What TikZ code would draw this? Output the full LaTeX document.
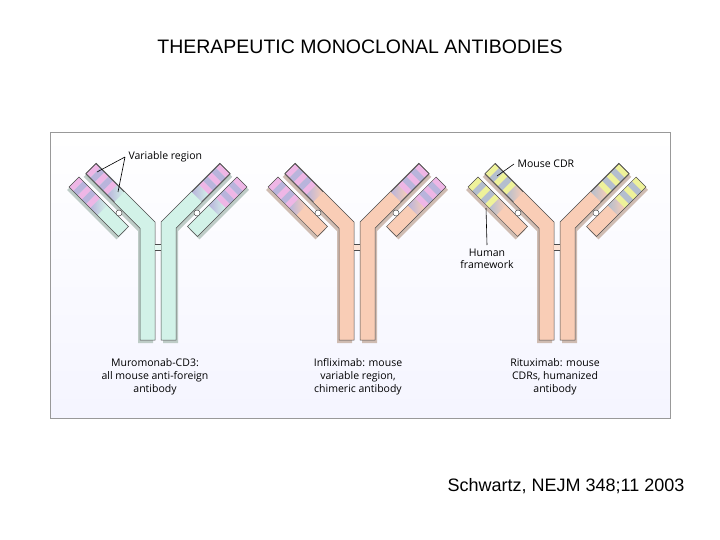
\documentclass[tikz,border=0pt]{standalone}
\usepackage{fontspec}
\setmainfont{Liberation Sans}
\newfontfamily\capfont{Open Sans}
\begin{document}
\begin{tikzpicture}[x=1pt,y=-1pt,
  edge/.style={draw=black!70,line width=0.5pt},
  captxt/.style={font=\capfont\fontsize{10.5}{13}\selectfont,align=center,anchor=north},
  lbl/.style={font=\capfont\fontsize{10.5}{12.5}\selectfont,align=center},
  lead/.style={draw=black,line width=0.6pt}]
\useasboundingbox (0,0) rectangle (720,540);
\definecolor{mint}{HTML}{D2F2E8}
\definecolor{peach}{HTML}{F9CDB6}
\definecolor{pinkv}{HTML}{EEB6E6}
\definecolor{lavv}{HTML}{B9B4DC}
\definecolor{yelv}{HTML}{EEF29A}
\definecolor{grayv}{HTML}{B4BECE}
\newcommand\chainbox[7]{%
  \ifnum#7=1
  \begin{scope}[shift={#1},shift={(-2,3)},rotate=#2]
    \fill[#4!70!black!60] (0,-7) rectangle (#3,7);
  \end{scope}
  \begin{scope}[shift={#1},rotate=#2]
    \fill[#4] (0,-7) rectangle (#3,7);
  \end{scope}\fi
  \begin{scope}[shift={#1},rotate=#2]
    \foreach \i in {0,2,4}{\fill[#5] (\i*6,-7) rectangle (\i*6+6,7);}
    \foreach \i in {1,3}{\fill[#6] (\i*6,-7) rectangle (\i*6+6,7);}
    \shade[left color=#6, right color=#4] (30,-7) rectangle (40,7);
    \ifnum#7=1 \draw[edge] (0,-7) rectangle (#3,7);
    \else \draw[edge] (0,-7) -- (0,7); \draw[edge] (0,-7)--(40,-7); \draw[edge] (0,7)--(40,7); \fi
  \end{scope}}
\newcommand\halfab[3]{%
  \fill[#1!70!black!60,shift={(-2,3)}] (-3,340)--(-3,222)--(-61.7,163.3)--(-72.3,173.9)--(-18,228.2)--(-18,340)--cycle;
  \fill[#1] (-3,340)--(-3,222)--(-61.7,163.3)--(-72.3,173.9)--(-18,228.2)--(-18,340)--cycle;
  \chainbox{(-67,168.6)}{-45}{40}{#1}{#2}{#3}{0}
  \draw[edge] (-3,340)--(-3,222)--(-61.7,163.3)--(-72.3,173.9)--(-18,228.2)--(-18,340)--cycle;
  \chainbox{(-84,182)}{-45}{70}{#1}{#2}{#3}{1}
  \fill[white] (-39,213) circle (3); \draw[edge] (-39,213) circle (3);
  \fill[#1!60!white] (-3,244) rectangle (0,250);
  \draw[edge] (-3,244)--(0,244) (-3,250)--(0,250);}
\newcommand\antibody[4]{%
  \begin{scope}[shift={(#1,0)}]
    \halfab{#2}{#3}{#4}
  \end{scope}
  \begin{scope}[cm={-1,0,0,1,(#1,0)}]
    \halfab{#2}{#3}{#4}
  \end{scope}}
\shade[top color=white,bottom color=blue!4!white] (50,132) rectangle (670,418);
\draw[black!40,line width=0.8pt] (50,132) rectangle (670,418);
\node[font=\fontsize{19.5}{22}\selectfont] (title) at (360,47) {THERAPEUTIC MONOCLONAL ANTIBODIES};
\node[font=\fontsize{18}{21}\selectfont,anchor=east] (cite) at (688,486) {Schwartz, NEJM 348;11 2003};
\antibody{158}{mint}{pinkv}{lavv}
\antibody{357}{peach}{pinkv}{lavv}
\antibody{557}{peach}{yelv}{grayv}
\node[lbl,anchor=west] (vr) at (125,157) {Variable region};
\coordinate (vr1) at (97,172); \coordinate (vr2) at (118,192);
\draw[lead] (vr.west) -- (vr1) (vr.west) -- (vr2);
\node[lbl,anchor=west] (mc) at (514,164) {Mouse CDR};
\coordinate (mc1) at (497,176);
\draw[lead] (mc.west) -- (mc1);
\node[lbl,anchor=north] (hf) at (487,245) {Human\\framework};
\coordinate (hf1) at (486,208);
\draw[lead] (hf.north) -- (hf1);
\node[captxt] (c1) at (155,355) {Muromonab-CD3:\\all mouse anti-foreign\\antibody};
\node[captxt] (c2) at (358,355) {Infliximab: mouse\\variable region,\\chimeric antibody};
\node[captxt] (c3) at (555,355) {Rituximab: mouse\\CDRs, humanized\\antibody};
\end{tikzpicture}
\end{document}
